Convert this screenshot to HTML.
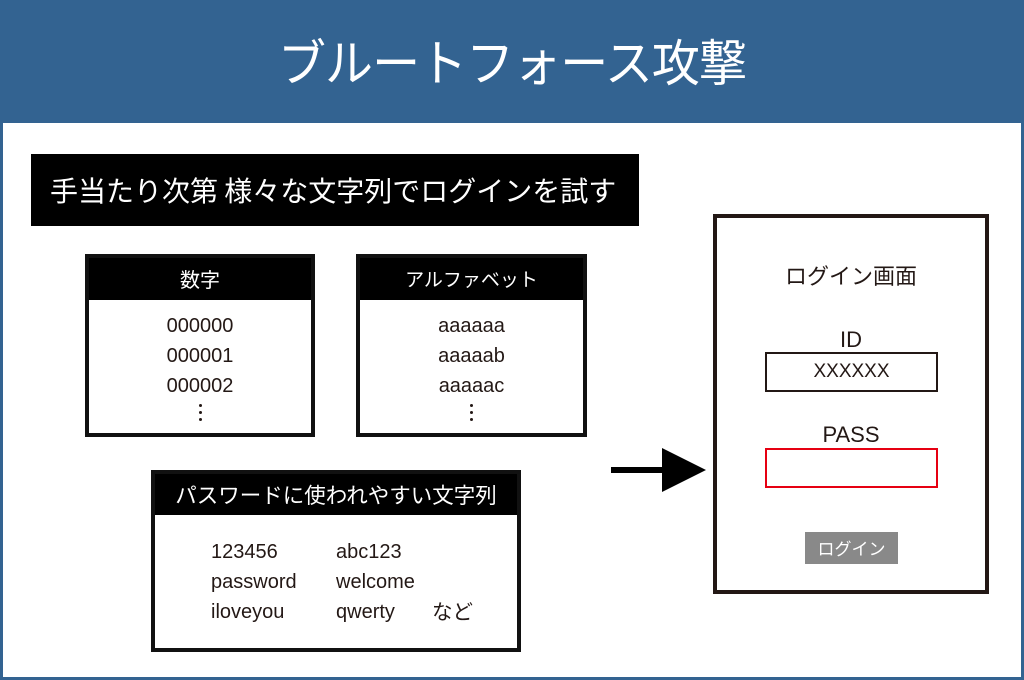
<!DOCTYPE html>
<html><head><meta charset="utf-8">
<style>
*{margin:0;padding:0;box-sizing:border-box}
body{width:1024px;height:680px;overflow:hidden;background:#336391;position:relative;font-family:"Liberation Sans","Noto Sans CJK JP",sans-serif;color:#231815}
.main{position:absolute;left:3px;top:123px;width:1018px;height:554px;background:#fff}
.abs{position:absolute}
.title{left:0;top:0;width:1024px;height:123px;line-height:120px;text-align:center;color:#fff;font-family:"Noto Sans CJK JP",sans-serif;font-size:50px;letter-spacing:-1px;transform:scaleX(0.96)}
.banner{left:31px;top:154px;width:608px;height:72px;background:#000;color:#fff;font-family:"Noto Sans CJK JP",sans-serif;font-size:28px;line-height:72px;padding-left:19px;white-space:nowrap}
.box{border:4px solid #111;background:#fff}
.hd{position:absolute;left:0;top:0;right:0;background:#000;color:#fff;text-align:center;font-family:"Noto Sans CJK JP",sans-serif;white-space:nowrap}
.t{position:absolute;white-space:nowrap;font-size:20px;line-height:24px}
.c{text-align:center}
.dot{position:absolute;width:3px;height:3px;border-radius:50%;background:#231815}
</style></head><body>
<div class="abs title">ブルートフォース攻撃</div>
<div class="main"></div>
<div class="abs banner">手当たり次第 様々な文字列でログインを試す</div>

<!-- 数字 box -->
<div class="abs box" style="left:85px;top:254px;width:230px;height:183px">
  <div class="hd" style="height:42px;font-size:20px;line-height:42px">数字</div>
</div>
<div class="t c" style="left:85px;width:230px;top:314px">000000</div>
<div class="t c" style="left:85px;width:230px;top:344px">000001</div>
<div class="t c" style="left:85px;width:230px;top:374px">000002</div>
<div class="dot" style="left:199px;top:404px"></div>
<div class="dot" style="left:199px;top:411px"></div>
<div class="dot" style="left:199px;top:418px"></div>

<!-- アルファベット box -->
<div class="abs box" style="left:356px;top:254px;width:231px;height:183px">
  <div class="hd" style="height:42px;font-size:19px;line-height:42px">アルファベット</div>
</div>
<div class="t c" style="left:356px;width:231px;top:314px">aaaaaa</div>
<div class="t c" style="left:356px;width:231px;top:344px">aaaaab</div>
<div class="t c" style="left:356px;width:231px;top:374px">aaaaac</div>
<div class="dot" style="left:470px;top:404px"></div>
<div class="dot" style="left:470px;top:411px"></div>
<div class="dot" style="left:470px;top:418px"></div>

<!-- password box -->
<div class="abs box" style="left:151px;top:470px;width:370px;height:182px">
  <div class="hd" style="height:41px;font-size:21.5px;line-height:41px">パスワードに使われやすい文字列</div>
</div>
<div class="t" style="left:211px;top:540px">123456</div>
<div class="t" style="left:211px;top:570px">password</div>
<div class="t" style="left:211px;top:600px">iloveyou</div>
<div class="t" style="left:336px;top:540px">abc123</div>
<div class="t" style="left:336px;top:570px">welcome</div>
<div class="t" style="left:336px;top:600px">qwerty</div>
<div class="t" style="left:432px;top:595px;font-size:20.5px;line-height:30px;font-family:'Noto Sans CJK JP',sans-serif">など</div>

<!-- arrow -->
<div class="abs" style="left:611px;top:467px;width:53px;height:6px;background:#000"></div>
<svg class="abs" style="left:660px;top:446px" width="48" height="48"><polygon points="2,2 46,24 2,46" fill="#000"/></svg>

<!-- login screen -->
<div class="abs box" style="left:713px;top:214px;width:276px;height:380px;border-color:#231815"></div>
<div class="t c" style="left:713px;width:276px;top:260px;font-size:22px;line-height:30px;font-family:'Noto Sans CJK JP',sans-serif">ログイン画面</div>
<div class="t c" style="left:713px;width:276px;top:326px;font-size:22px;line-height:28px">ID</div>
<div class="abs" style="left:765px;top:352px;width:173px;height:40px;border:2.5px solid #231815"></div>
<div class="t c" style="left:765px;width:173px;top:360px;font-size:19px;line-height:24px">XXXXXX</div>
<div class="t c" style="left:713px;width:276px;top:421px;font-size:22px;line-height:28px">PASS</div>
<div class="abs" style="left:765px;top:448px;width:173px;height:40px;border:2.5px solid #e60012"></div>
<div class="abs" style="left:805px;top:532px;width:93px;height:32px;background:#898989;color:#fff;font-family:'Noto Sans CJK JP',sans-serif;font-size:17px;line-height:32px;text-align:center">ログイン</div>
</body></html>
